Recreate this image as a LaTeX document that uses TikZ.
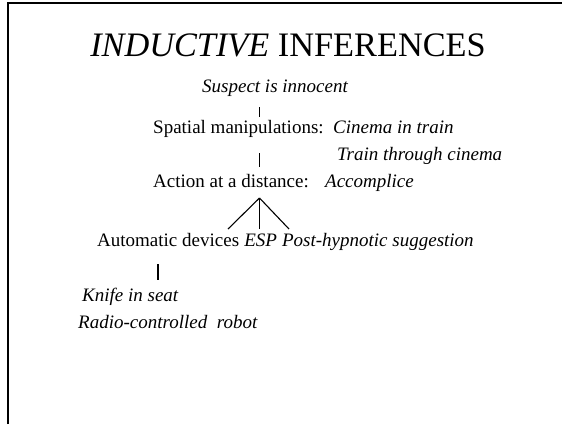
\documentclass[tikz,border=0pt]{standalone}
\usepackage{fontspec}
\setmainfont{Liberation Serif}
\usetikzlibrary{positioning}
\tikzset{every picture/.style={line cap=butt}}

\begin{document}
\begin{tikzpicture}[
            x=1pt, y=-1pt,
            heading/.style={anchor=base, inner sep=0pt, font=\fontsize{34.3}{39}\selectfont},
            plain/.style={anchor=base west, inner sep=0pt, font=\fontsize{19}{22}\selectfont},
            example/.style={anchor=base west, inner sep=0pt, font=\fontsize{19}{22}\selectfont\itshape},
            link/.style={line width=1.1pt}
        ]

        \useasboundingbox (0,0) rectangle (562,424);

        % Frame of the slide (top and left edges)
        \draw[line width=2pt] (8,424) -- (8,2.5) -- (562,2.5);

        \node[heading] (title) at (288,56) {\textit{INDUCTIVE} INFERENCES};

        % Chain of explanations
        \node[example] (suspect) at (202,92) {Suspect is innocent};
        \node[plain] (spatial) at (153,133) {Spatial manipulations:};
        \node[example] (cinema) at (333,133) {Cinema in train};
        \node[example] (train) at (337,160) {Train through cinema};
        \node[plain] (action) at (153,187) {Action at a distance:};
        \node[example] (accomplice) at (325,187) {Accomplice};

        % Bottom row
        \node[plain] (auto) at (97,246) {Automatic devices};
        \node[example, right=4.75pt of auto.base east, anchor=base west] (esp) {ESP};
        \node[example, right=4.75pt of esp.base east, anchor=base west] (hypno) {Post-hypnotic suggestion};
        \node[example] (knife) at (82,301) {Knife in seat};
        \node[example] (radio) at (78,328) {Radio-controlled\ \ robot};

        % End points of the short links
        \coordinate (t1) at (259.5,107);
        \coordinate (t1b) at (259.5,117);
        \coordinate (t2) at (259.5,153);
        \coordinate (t2b) at (259.5,167);
        \coordinate (fan) at (259.5,198);
        \coordinate (fanl) at (228,229);
        \coordinate (fanm) at (259.5,229);
        \coordinate (fanr) at (289,229);
        \coordinate (t3) at (158,264);
        \coordinate (t3b) at (158,280);

        \draw[link] (t1) -- (t1b);
        \draw[link] (t2) -- (t2b);
        \draw[link] (fan) -- (fanl);
        \draw[link] (fan) -- (fanm);
        \draw[link] (fan) -- (fanr);
        \draw[link] (t3) -- (t3b);

    \end{tikzpicture}
\end{document}
